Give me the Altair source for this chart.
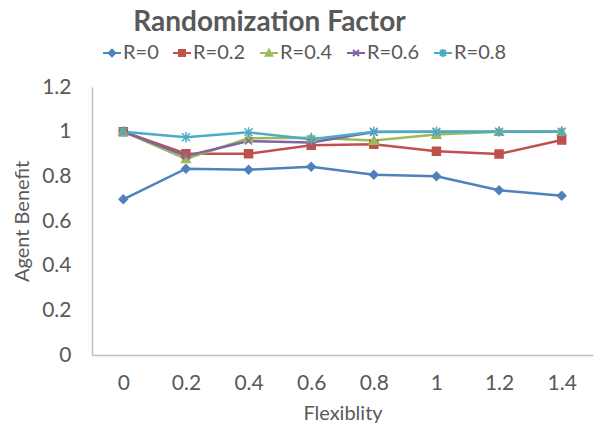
import altair as alt
import pandas as pd

flex = ["0", "0.2", "0.4", "0.6", "0.8", "1", "1.2", "1.4"]
series_names = ["R=0", "R=0.2", "R=0.4", "R=0.6", "R=0.8"]
r0 = [0.697, 0.834, 0.830, 0.843, 0.807, 0.800, 0.738, 0.713]
r02 = [1.0, 0.901, 0.901, 0.939, 0.944, 0.912, 0.900, 0.963]
r04 = [1.0, 0.878, 0.970, 0.973, 0.960, 0.987, 1.0, 1.0]
r06 = [1.0, 0.891, 0.958, 0.952, 0.998, 1.0, 1.0, 1.0]
r08 = [1.0, 0.975, 0.997, 0.966, 1.0, 1.0, 1.0, 1.0]
values = [r0, r02, r04, r06, r08]
colors = ["#4F81BD", "#C0504D", "#9BBB59", "#8064A2", "#4BACC6"]

marker_paths = [
    "M0,-1L1,0L0,1L-1,0Z",
    "M-1,-1H1V1H-1Z",
    "M0,-1.1L1.1,0.9H-1.1Z",
    "M-1,-1L1,1M-1,1L1,-1",
    "M-1,-1L1,1M-1,1L1,-1M0,-1.3V1.3",
]
marker_sizes = [70, 64, 64, 49, 64]
legend_paths = [
    "M-3,0H-1M1,0H3M0,-1.1L1.1,0L0,1.1L-1.1,0Z",
    "M-3,0H-1M1,0H3M-1,-1H1V1H-1Z",
    "M-3,0H-1M1,0H3M0,-1.1L1.1,0.9H-1.1Z",
    "M-3,0H3M-1,-1L1,1M-1,1L1,-1",
    "M-3,0H3M-1,-1L1,1M-1,1L1,-1M0,-1.3V1.3",
]

rows = []
for name, vals in zip(series_names, values):
    for f, v in zip(flex, vals):
        rows.append({"Flex": f, "Benefit": v, "Series": name})
df = pd.DataFrame(rows)
legend_df = pd.DataFrame({"Series": series_names})

FONT = "Lato"
GREY = "#595959"

x_enc = alt.X("Flex:O", sort=flex, scale=alt.Scale(type="point", padding=0.5),
              axis=alt.Axis(title="Flexiblity", labelAngle=0, labelPadding=17,
                            titlePadding=10))
y_enc = alt.Y("Benefit:Q", scale=alt.Scale(domain=[0, 1.2], nice=False),
              axis=alt.Axis(title="Agent Benefit", values=[0, 0.2, 0.4, 0.6, 0.8, 1, 1.2],
                            format="~g", labelPadding=21, titlePadding=9))
color_scale = alt.Scale(domain=series_names, range=colors)

base = alt.Chart(df)

lines = base.mark_line(strokeWidth=2.5).encode(
    x=x_enc, y=y_enc,
    color=alt.Color("Series:N", scale=color_scale),
)

layers = [lines]
for i, name in enumerate(series_names):
    pts = base.transform_filter(alt.datum.Series == name).mark_point(
        shape=marker_paths[i], filled=True, size=marker_sizes[i], strokeWidth=1.5, opacity=1
    ).encode(
        x=x_enc, y=y_enc,
        color=alt.Color("Series:N", scale=color_scale),
        stroke=alt.Stroke("Series:N", scale=color_scale),
    )
    layers.append(pts)

legend_layer = alt.Chart(legend_df).mark_point(
    filled=True, size=36, strokeWidth=2, opacity=1, clip=True
).encode(
    x=alt.value(-60), y=alt.value(-60),
    color=alt.Color("Series:N", scale=color_scale),
    stroke=alt.Stroke("Series:N", scale=color_scale),
    shape=alt.Shape("Series:N", scale=alt.Scale(domain=series_names, range=legend_paths)),
)
layers.append(legend_layer)

chart = alt.layer(*layers).properties(
    width=501, height=268,
    title=alt.Title("Randomization Factor", font=FONT, fontSize=28, fontWeight="bold",
                    color=GREY, anchor="middle", frame="group", dx=-73, dy=-2),
    autosize=alt.AutoSizeParams(type="none"),
    padding={"left": 92, "top": 87, "right": 2, "bottom": 78},
).configure_view(stroke=None).configure_axis(
    grid=False, ticks=False, domainColor="#BFBFBF", domainWidth=1.5,
    labelFont=FONT, labelFontSize=21, labelColor=GREY,
    titleFont=FONT, titleFontSize=20, titleColor=GREY, titleFontWeight="normal",
).configure_legend(
    title=None, orient="none", direction="horizontal", legendX=4, legendY=-44,
    labelFont=FONT, labelFontSize=20, labelColor=GREY, symbolSize=36, symbolOffset=6,
    labelOffset=1, columnPadding=7, symbolStrokeWidth=2,
)

chart.save("out.html", embed_options={"renderer": "svg", "actions": False})
